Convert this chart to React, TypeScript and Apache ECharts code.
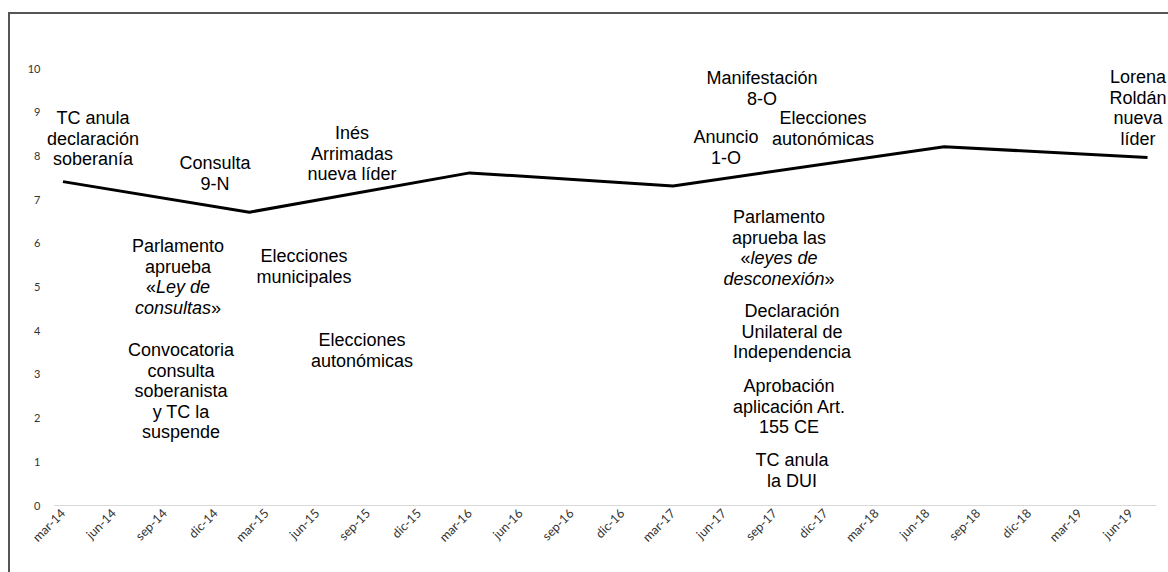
import React, { useEffect, useRef } from "react";
import * as echarts from "echarts";

// Quarterly tick labels of the date axis
const quarterLabels = [
  "mar-14", "jun-14", "sep-14", "dic-14",
  "mar-15", "jun-15", "sep-15", "dic-15",
  "mar-16", "jun-16", "sep-16", "dic-16",
  "mar-17", "jun-17", "sep-17", "dic-17",
  "mar-18", "jun-18", "sep-18", "dic-18",
  "mar-19", "jun-19",
];

// Observation dates (year-month) and values
const pointDates = ["2014-03", "2015-02", "2016-03", "2017-03", "2018-07", "2019-07"];
const pointValues = [7.4, 6.7, 7.6, 7.3, 8.2, 7.95];

// Y ticks
const yMin = 0;
const yMax = 10;
const yStep = 1;

// Annotation texts (rich markup: {i|...} is italic)
const annotationTexts = [
  "TC anula\ndeclaración\nsoberanía",
  "Consulta\n9-N",
  "Inés\nArrimadas\nnueva líder",
  "Parlamento\naprueba\n«{i|Ley de}\n{i|consultas}»",
  "Elecciones\nmunicipales",
  "Convocatoria\nconsulta\nsoberanista\ny TC la\nsuspende",
  "Elecciones\nautonómicas",
  "Manifestación\n8-O",
  "Anuncio\n1-O",
  "Elecciones\nautonómicas",
  "Lorena\nRoldán\nnueva\nlíder",
  "Parlamento\naprueba las\n«{i|leyes de}\n{i|desconexión}»",
  "Declaración\nUnilateral de\nIndependencia",
  "Aprobación\naplicación Art.\n155 CE",
  "TC anula\nla DUI",
];

// Layout of annotations (chart pixel coords: center x, top y)
const annotationPos: [number, number][] = [
  [83, 94],
  [205, 139],
  [342, 109],
  [168, 222],
  [294, 232],
  [171, 326],
  [352, 316],
  [752, 54],
  [716, 113],
  [813, 94],
  [1128, 53],
  [769, 193],
  [782, 287],
  [779, 362],
  [782, 436],
];

const FONT = '"Liberation Sans", Arial, sans-serif';
const AXIS_FONT = 'Lato, "Liberation Sans", sans-serif';
const START_YEAR = 2014;
const START_MONTH = 3;
function monthIndex(d: string): number {
  const [y, m] = d.split("-").map(Number);
  return (y - START_YEAR) * 12 + (m - START_MONTH);
}

export default function App() {
  const ref = useRef<HTMLDivElement>(null);

  useEffect(() => {
    document.body.style.margin = "0";
    document.documentElement.style.overflow = "hidden";
    const chart = echarts.init(ref.current!, null, { renderer: "svg" });

    const data = pointDates.map((d, i) => [monthIndex(d), pointValues[i]]);
    const tickVals = quarterLabels.map((_, i) => i * 3);

    const graphics = annotationTexts.map((t, i) => ({
      type: "text",
      x: annotationPos[i][0],
      y: annotationPos[i][1],
      style: {
        text: t,
        fill: "#000",
        fontSize: 18,
        fontFamily: FONT,
        align: "center",
        verticalAlign: "top",
        lineHeight: 20.5,
        rich: {
          i: {
            fontStyle: "italic",
            fontSize: 18,
            fontFamily: FONT,
            lineHeight: 20.5,
            fill: "#000",
            align: "center",
          },
        },
      },
    }));

    chart.setOption({
      animation: false,
      backgroundColor: "#fff",
      grid: { left: 44.5, right: 12, top: 54, bottom: 67, containLabel: false },
      xAxis: {
        type: "value",
        min: -0.5,
        max: 64.5,
        axisLine: { show: true, lineStyle: { color: "#d9d9d9", width: 1 } },
        axisTick: { show: false },
        splitLine: { show: false },
        axisLabel: {
          customValues: tickVals,
          rotate: 45,
          margin: 6,
          color: "#333",
          fontSize: 12.5,
          fontFamily: AXIS_FONT,
          formatter: (v: number) => quarterLabels[Math.round(v / 3)] ?? "",
        },
      },
      yAxis: {
        type: "value",
        min: yMin,
        max: yMax,
        interval: yStep,
        axisLine: { show: false },
        axisTick: { show: false },
        splitLine: { show: false },
        axisLabel: {
          margin: 14,
          color: "#333",
          fontSize: 11,
          fontFamily: AXIS_FONT,
        },
      },
      series: [
        {
          type: "line",
          data,
          showSymbol: false,
          symbol: "none",
          lineStyle: { color: "#000", width: 3 },
        },
      ],
      graphic: graphics,
    });

    return () => chart.dispose();
  }, []);

  return (
    <div
      ref={ref}
      style={{
        position: "absolute",
        left: 8,
        top: 12,
        width: 1158,
        height: 558,
        borderTop: "2px solid #555",
        borderLeft: "2px solid #555",
        background: "#fff",
      }}
    />
  );
}
